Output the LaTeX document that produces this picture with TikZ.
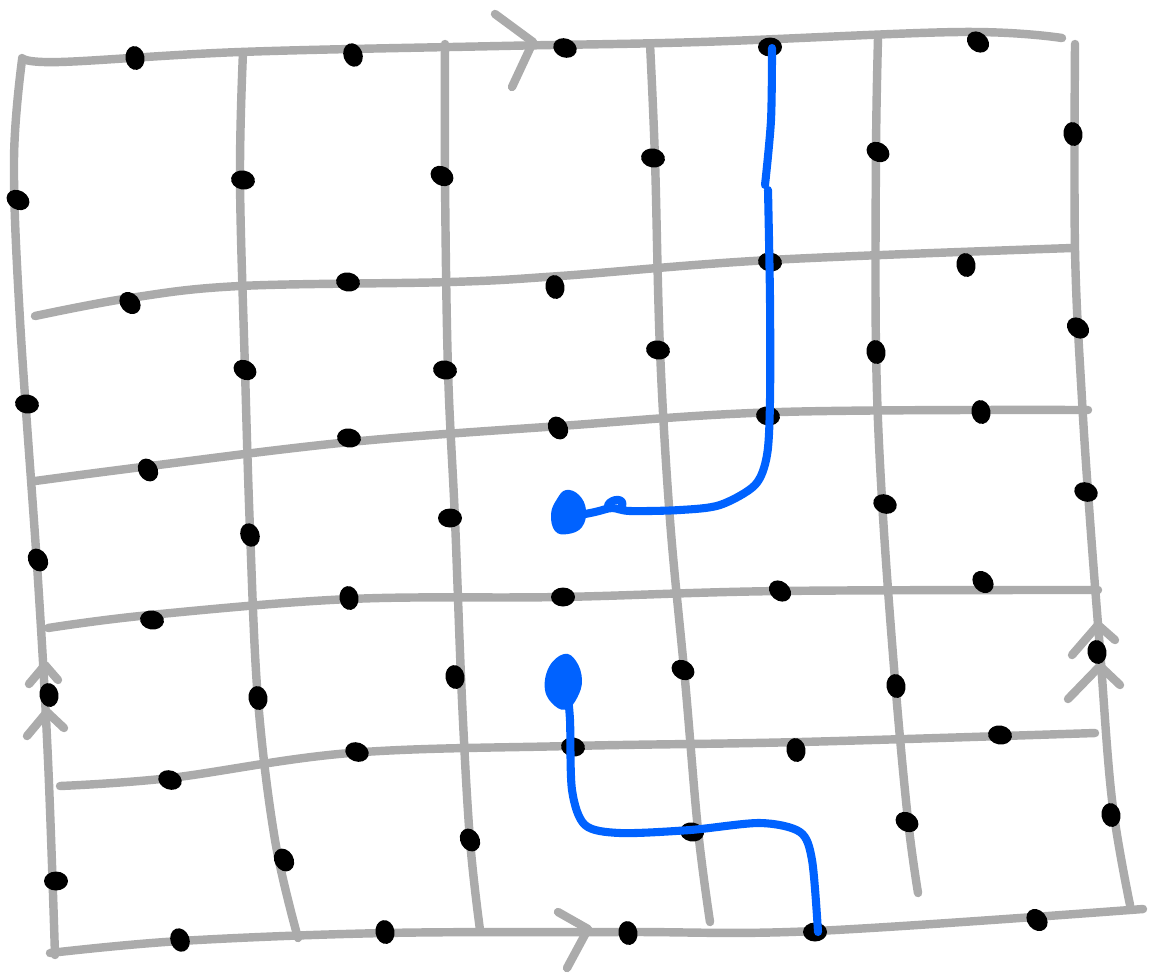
\documentclass[tikz,border=0pt]{standalone}
\definecolor{pen}{HTML}{0062FF}
\definecolor{lg}{HTML}{ABABAB}
\begin{document}
\begin{tikzpicture}[x=0.02cm,y=-0.02cm,
  gridline/.style={draw=lg,line width=4.8pt,line cap=round,line join=round},
  bluepath/.style={draw=pen,line width=4.6pt,line cap=round,line join=round},
  dotmark/.style={fill=black}]
\useasboundingbox (0,0) rectangle (1151,978);
% horizontal lines
\draw[gridline] plot[smooth,tension=0.6] coordinates {(22,58) (60,62) (240,52) (500,46) (700,42) (960,32) (1062,38)};
\draw[gridline] plot[smooth,tension=0.6] coordinates {(35,316) (130,298) (240,286) (450,282) (560,276) (770,260) (1072,248)};
\draw[gridline] plot[smooth,tension=0.6] coordinates {(35,481) (150,466) (350,442) (560,426) (780,412) (1088,410)};
\draw[gridline] plot[smooth,tension=0.6] coordinates {(48,628) (150,615) (350,599) (560,597) (780,591) (1098,590)};
\draw[gridline] plot[smooth,tension=0.6] coordinates {(60,786) (170,778) (350,753) (570,746) (800,742) (1095,733)};
\draw[gridline] plot[smooth,tension=0.6] coordinates {(50,953) (180,941) (385,933) (620,932) (815,931) (1143,909)};
% vertical lines
\draw[gridline] plot[smooth,tension=0.6] coordinates {(22,60) (14,160) (20,320) (38,580) (48,760) (55,955)};
\draw[gridline] plot[smooth,tension=0.6] coordinates {(243,52) (240,180) (245,370) (250,530) (258,700) (275,840) (298,938)};
\draw[gridline] plot[smooth,tension=0.6] coordinates {(445,44) (445,180) (448,370) (455,520) (462,700) (470,840) (480,930)};
\draw[gridline] plot[smooth,tension=0.6] coordinates {(650,44) (655,160) (660,350) (670,520) (685,680) (698,830) (710,922)};
\draw[gridline] plot[smooth,tension=0.6] coordinates {(878,38) (876,150) (876,350) (882,500) (895,680) (908,820) (918,893)};
\draw[gridline] plot[smooth,tension=0.6] coordinates {(1075,44) (1075,250) (1082,400) (1090,520) (1100,650) (1112,800) (1130,905)};
% arrow chevrons
\draw[gridline] (495,14) -- (533,42) -- (512,87);
\draw[gridline] (558,912) -- (588,929) -- (567,968);
\draw[gridline] (29,684) -- (45,665) -- (58,680);
\draw[gridline] (27,736) -- (47,712) -- (64,728);
\draw[gridline] (1072,655) -- (1098,625) -- (1115,640);
\draw[gridline] (1068,699) -- (1100,666) -- (1120,685);
% dots
\foreach \x/\y/\a in {135/58/80, 353/55/70, 565/48/20, 770/47/0, 978/42/40,
  18/200/30, 243/180/10, 442/176/30, 653/158/10, 878/152/30, 1073/134/80,
  130/303/50, 348/282/10, 555/287/80, 770/262/10, 966/265/80,
  27/404/10, 245/370/30, 445/370/10, 658/350/10, 876/352/80, 1078/328/40,
  148/470/60, 349/438/10, 558/428/60, 768/416/10, 981/412/80,
  38/560/60, 250/535/70, 450/518/0, 885/504/20, 1086/492/20,
  152/620/10, 349/598/80, 563/597/0, 780/591/40, 983/582/50,
  49/695/80, 258/698/80, 455/677/80, 683/670/30, 896/686/80, 1097/652/80,
  170/780/20, 357/752/20, 573/747/10, 796/750/80, 1000/735/10,
  56/881/0, 284/860/60, 470/840/60, 692/832/10, 907/822/30, 1111/815/80,
  180/940/70, 385/932/80, 628/933/80, 815/932/0, 1037/920/50}
  \fill[dotmark,rotate around={-\a:(\x,\y)}] (\x,\y) ellipse [x radius=0.24cm, y radius=0.19cm];
% blue paths
\draw[bluepath] plot[smooth,tension=0.5] coordinates {(772,48) (771,120) (765,185)};
\draw[bluepath] plot[smooth,tension=0.5] coordinates {(768,190) (770,300) (770,400) (767,455) (755,485) (720,505) (680,510) (630,511) (612,508) (595,512) (565,518)};
\draw[bluepath] (608,505) .. controls (612,498) and (625,498) .. (622,506);
\fill[pen] plot[smooth cycle,tension=0.7] coordinates {(566,490) (579,495) (586,510) (582,527) (568,534) (555,531) (551,514) (557,499)};
\fill[pen] plot[smooth cycle,tension=0.7] coordinates {(564,654) (576,661) (582,680) (577,698) (567,709) (555,706) (545,690) (549,667)};
\draw[bluepath] plot[smooth,tension=0.5] coordinates {(567,690) (570,720) (572,790) (585,825) (620,833) (690,830) (760,823) (800,832) (812,860) (818,932)};
\end{tikzpicture}
\end{document}
